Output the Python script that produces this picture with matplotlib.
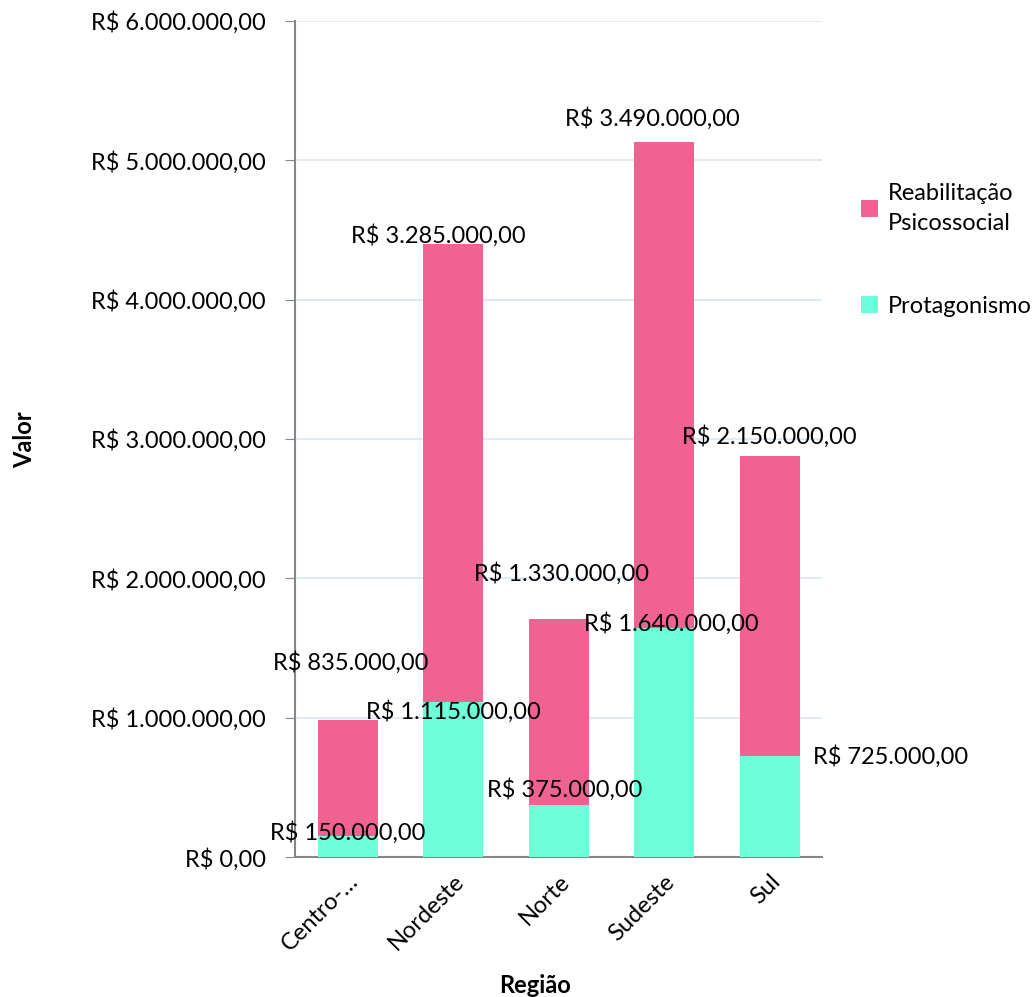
import matplotlib.pyplot as plt
import numpy as np

plt.rcParams['font.family'] = ['Lato', 'DejaVu Sans']

# valores por região (R$)
regioes = ['Centro-…', 'Nordeste', 'Norte', 'Sudeste', 'Sul']
protagonismo = [150000, 1115000, 375000, 1640000, 725000]
reabilitacao = [835000, 3285000, 1330000, 3490000, 2150000]
yticks = [0, 1000000, 2000000, 3000000, 4000000, 5000000, 6000000]

# deslocamento dos rótulos (pixels) em relação ao topo de cada segmento
desloc_prot = [(0, 4), (0, -10), (6, 15), (7, 5), (121, -1)]
desloc_reab = [(3, 57), (-15, 8), (3, 46), (-12, 24), (0, 20)]

cor_reab = '#F06292'
cor_prot = '#6EFFD8'
fs = 17


def brl(v):
    s = '{:,.2f}'.format(v).replace(',', 'X').replace('.', ',').replace('X', '.')
    return 'R$ ' + s


fig = plt.figure(figsize=(10.34, 9.97), dpi=100)
ax = fig.add_axes([0.2853, 0.1404, 0.51, 0.8386])

x = np.arange(len(regioes))
b1 = ax.bar(x, protagonismo, width=0.57, color=cor_prot, label='Protagonismo', zorder=3)
b2 = ax.bar(x, reabilitacao, width=0.57, bottom=protagonismo, color=cor_reab,
            label='Reabilitação\nPsicossocial', zorder=3)

for i in range(len(regioes)):
    ax.annotate(brl(protagonismo[i]), (x[i], protagonismo[i]), xytext=desloc_prot[i],
                textcoords='offset pixels', ha='center', va='center', fontsize=fs, zorder=5)
    topo = protagonismo[i] + reabilitacao[i]
    ax.annotate(brl(reabilitacao[i]), (x[i], topo), xytext=desloc_reab[i],
                textcoords='offset pixels', ha='center', va='center', fontsize=fs, zorder=5)

ax.set_xlim(-0.5, len(regioes) - 0.5)
ax.set_ylim(0, 6000000)
ax.set_yticks(yticks)
ax.set_yticklabels([brl(v) for v in yticks], fontsize=fs)
ax.set_xticks(x)
ax.set_xticklabels(regioes, rotation=45, ha='right', rotation_mode='anchor', fontsize=fs)
ax.tick_params(axis='x', length=0, pad=10)
ax.tick_params(axis='y', length=7, color='#868686', pad=14)

ax.grid(axis='y', color='#DCE6F2', linewidth=1.2, zorder=0)
for lado in ['top', 'right']:
    ax.spines[lado].set_visible(False)
for lado in ['left', 'bottom']:
    ax.spines[lado].set_color('#868686')
    ax.spines[lado].set_linewidth(1.5)

# títulos dos eixos em posição fixa na figura
fig.text(0.024, 0.559, 'Valor', fontsize=fs, fontweight='bold', rotation=90,
         ha='center', va='center')
fig.text(0.517, 0.012, 'Região', fontsize=fs, fontweight='bold', ha='center', va='center')

h, l = ax.get_legend_handles_labels()
leg = ax.legend(h[::-1], l[::-1], loc='upper left', bbox_to_anchor=(1.055, 0.818), frameon=False,
                fontsize=fs, handlelength=0.75, handleheight=0.75, handletextpad=0.4,
                labelspacing=2.62, borderaxespad=0)
for t in leg.get_texts():
    t.set_linespacing(1.55)

fig.savefig('out.png', dpi=100)
